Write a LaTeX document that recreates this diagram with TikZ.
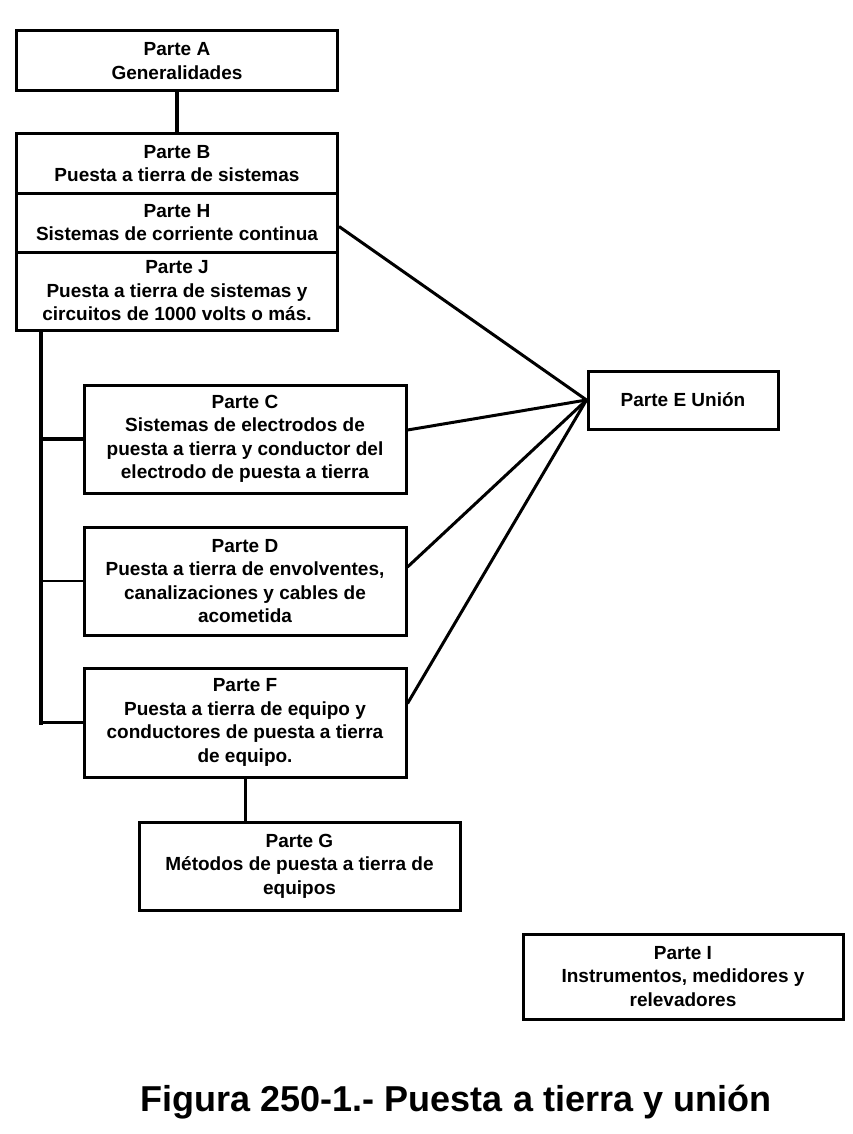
\documentclass[tikz,border=0pt]{standalone}
\usepackage{fontspec}
\setmainfont{Liberation Sans}
\begin{document}
\begin{tikzpicture}[x=1pt,y=-1pt,
  box/.style={draw, line width=3pt, align=center, inner sep=0pt,
    font=\bfseries\fontsize{19}{23.5}\selectfont},
  wire/.style={line width=3pt},
  thickwire/.style={line width=4pt}]
\useasboundingbox (0,0) rectangle (852,1134);
\node[box, minimum width=321, minimum height=60] (A) at (177,61) {Parte A\\Generalidades};
\node[box, minimum width=321, minimum height=59] (B) at (177,163.5) {Parte B\\Puesta a tierra de sistemas};
\node[box, minimum width=321, minimum height=59] (H) at (177,222.5) {Parte H\\Sistemas de corriente continua};
\node[box, minimum width=321, minimum height=78] (J) at (177,291) {Parte J\\Puesta a tierra de sistemas y\\circuitos de 1000 volts o más.};
\node[box, minimum width=322, minimum height=108] (C) at (245,439) {Parte C\\Sistemas de electrodos de\\puesta a tierra y conductor del\\electrodo de puesta a tierra};
\node[box, minimum width=322, minimum height=108] (D) at (245,581) {Parte D\\Puesta a tierra de envolventes,\\canalizaciones y cables de\\acometida};
\node[box, minimum width=322, minimum height=109] (F) at (245,722.5) {Parte F\\Puesta a tierra de equipo y\\conductores de puesta a tierra\\de equipo.};
\node[box, minimum width=321, minimum height=88] (G) at (299.5,866) {Parte G\\Métodos de puesta a tierra de\\equipos};
\node[box, minimum width=190, minimum height=58] (E) at (683,400) {Parte E Unión};
\node[box, minimum width=320, minimum height=85] (I) at (683,976.5) {Parte I\\Instrumentos, medidores y\\relevadores};
\node[font=\bfseries\fontsize{36}{42}\selectfont] (cap) at (456,1102) {Figura 250-1.- Puesta a tierra y unión};
\coordinate (trunkTop) at (41,330);
\coordinate (trunkBot) at (41,725);
\draw[thickwire] (A.south) -- (B.north);
\draw[thickwire] (trunkTop) -- (trunkBot);
\draw[thickwire] (trunkTop |- C.west) -- (C.west);
\draw[line width=2.5pt] (trunkTop |- D.west) -- (D.west);
\draw[wire] (trunkTop |- F.west) -- (F.west);
\draw[wire] (F.south) -- (F.south |- G.north);
\draw[wire] ([yshift=-4pt]H.east) -- (E.west);
\draw[wire] ([yshift=9pt]C.east) -- (E.west);
\draw[wire] ([yshift=14pt]D.east) -- (E.west);
\draw[wire] ([yshift=19pt]F.east) -- (E.west);
\end{tikzpicture}
\end{document}
